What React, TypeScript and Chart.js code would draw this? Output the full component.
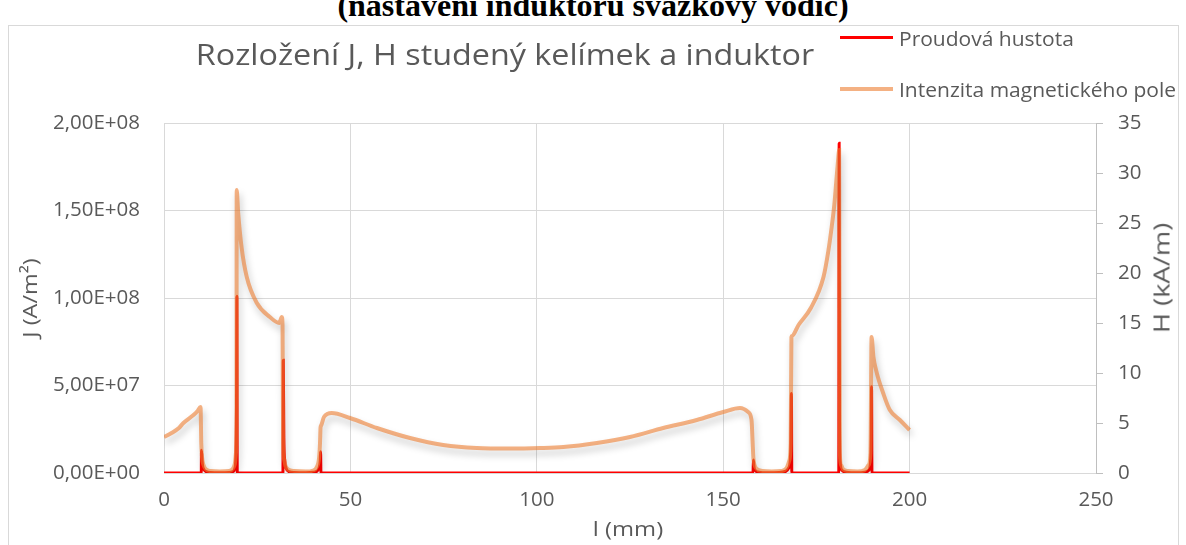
import React, { useEffect, useRef } from "react";
import { Chart, registerables } from "chart.js";

Chart.register(...registerables);

// ---- data ----
const headingText = "(nastavení induktoru svazkový vodič)";
const chartTitle = "Rozložení J, H studený kelímek a induktor";
const seriesJName = "Proudová hustota";
const seriesHName = "Intenzita magnetického pole";
const xAxisTitle = "l (mm)";
const jAxisTitle = "J (A/m²)";
const hAxisTitle = "H (kA/m)";

// current density J (A/m2) vs l (mm)
const jX = [
  0, 10.0, 10.05, 10.3, 10.7, 11.3, 12.5, 15, 17.5, 18.5, 19.0, 19.3, 19.45, 19.55, 19.65,
  31.9, 32.0, 32.15, 32.4, 32.8, 33.5, 35, 38, 40, 41, 41.6, 41.9, 42.0, 42.1,
  158.0, 158.1, 158.3, 158.7, 159.5, 162, 165, 166.8, 167.6, 168.1, 168.3, 168.4,
  181.0, 181.1, 181.2, 181.4, 181.9, 183, 186, 188, 189, 189.5, 189.7, 189.8, 189.9, 200,
];
const jY = [
  0, 0, 1.3e7, 5e6, 2e6, 8e5, 3e5, 2e5, 3e5, 8e5, 2.5e6, 1.2e7, 4e7, 1.01e8, 0,
  0, 6.45e7, 2e7, 7e6, 2.5e6, 8e5, 3e5, 2e5, 4e5, 1e6, 3e6, 7e6, 1.22e7, 0,
  0, 7.4e6, 3e6, 1.2e6, 5e5, 2e5, 3e5, 1e6, 3e6, 1.2e7, 4.55e7, 0,
  0, 1.884e8, 3e7, 6e6, 1.5e6, 5e5, 2e5, 5e5, 1.5e6, 6e6, 2e7, 4.93e7, 0, 0,
];

// magnetic field intensity H (kA/m) vs l (mm)
const hX = [
  0, 2, 4, 5.2, 7.9, 9.0, 9.8, 10.0, 10.2, 10.6, 11.3, 12.5, 15, 17.5, 18.5, 19.0, 19.3, 19.45,
  19.5, 19.9, 20.8, 22.2, 24.9, 28.4, 30.9, 31.6, 31.8, 31.95, 32.2, 32.6, 33.3, 35, 38, 40, 41,
  41.6, 41.85, 42.0, 42.15, 42.9, 45.0, 49.9, 57.1, 66.0, 74.9, 83.9, 92.8, 100.9, 107.1, 116.1, 125.0,
  133.9, 142.9, 150.0, 154.5, 156.7, 157.6, 157.9, 158.1, 158.4, 159, 160.5, 163, 165.5, 167,
  167.7, 168.1, 168.3, 168.45, 170.2, 173.5, 176.9, 178.2, 179.1, 179.8, 180.3, 180.8, 181.1, 181.3,
  181.6, 182.2, 183.5, 186, 188, 189, 189.5, 189.8, 190.3, 191.2, 192.9, 194.7, 197.4, 200,
];
const hY = [
  3.6, 4.0, 4.5, 5.0, 5.8, 6.2, 6.6, 3.0, 1.6, 0.8, 0.35, 0.2, 0.15, 0.2, 0.45, 0.9, 2.0, 6.0,
  28.3, 26.0, 22.6, 19.6, 17.0, 15.6, 15.0, 15.6, 14.8, 3.0, 1.4, 0.7, 0.35, 0.2, 0.15, 0.25, 0.6,
  1.5, 3.0, 4.6, 4.75, 5.6, 6.0, 5.5, 4.5, 3.5, 2.8, 2.5, 2.45, 2.5, 2.6, 3.0, 3.6,
  4.5, 5.3, 6.1, 6.5, 6.1, 5.3, 3.0, 1.5, 0.8, 0.4, 0.2, 0.15, 0.2, 0.5,
  1.2, 3.0, 13.6, 13.7, 14.8, 16.5, 19.6, 22.2, 24.6, 26.8, 29.0, 31.2, 32.3, 2.0,
  0.8, 0.35, 0.2, 0.15, 0.3, 0.8, 2.0, 13.6, 11.6, 10.0, 8.0, 6.3, 5.3, 4.3,
];

const xTicks = [0, 50, 100, 150, 200, 250];
const jTickLabels = ["0,00E+00", "5,00E+07", "1,00E+08", "1,50E+08", "2,00E+08"];
const hTickLabels = ["0", "5", "10", "15", "20", "25", "30", "35"];

const TEXT = "#595959";
const GRID = "#D9D9D9";
const RED = "#FF0000";
const ORANGE_T = "rgba(237,125,49,0.6)";
const ORANGE_SW = "#F4B183";
const FONT = "'Open Sans', sans-serif";

const shadowPlugin = {
  id: "hShadow",
  beforeDatasetDraw(chart: any, args: any) {
    if (args.index === 0) {
      const ctx = chart.ctx;
      ctx.save();
      ctx.shadowColor = "rgba(0,0,0,0.35)";
      ctx.shadowBlur = 7;
      ctx.shadowOffsetX = 2;
      ctx.shadowOffsetY = 5;
    }
  },
  afterDatasetDraw(chart: any, args: any) {
    if (args.index === 0) chart.ctx.restore();
  },
};

const textBase: React.CSSProperties = {
  position: "absolute",
  fontFamily: FONT,
  color: TEXT,
  whiteSpace: "nowrap",
};

export default function App() {
  const ref = useRef<HTMLCanvasElement>(null);

  useEffect(() => {
    if (!ref.current) return;
    const tickFont = { family: FONT, size: 20.5 };
    const chart = new Chart(ref.current, {
      type: "line",
      data: {
        datasets: [
          {
            label: seriesHName,
            data: hX.map((x, i) => ({ x, y: hY[i] })),
            yAxisID: "yH",
            borderColor: ORANGE_T,
            borderWidth: 4,
            pointRadius: 0,
            cubicInterpolationMode: "monotone",
            fill: false,
          },
          {
            label: seriesJName,
            data: jX.map((x, i) => ({ x, y: jY[i] })),
            yAxisID: "yJ",
            borderColor: RED,
            borderWidth: 3,
            pointRadius: 0,
            cubicInterpolationMode: "monotone",
            fill: false,
          },
        ],
      },
      options: {
        animation: false,
        responsive: false,
        devicePixelRatio: 1,
        layout: { padding: { left: 15, right: 0, top: 123, bottom: 0 } },
        plugins: { legend: { display: false }, title: { display: false }, tooltip: { enabled: false } },
        scales: {
          x: {
            type: "linear",
            min: 0,
            max: 250,
            afterBuildTicks: (s: any) => {
              s.ticks = xTicks.map((v) => ({ value: v }));
            },
            afterFit: (s: any) => {
              s.height = 72;
            },
            grid: { color: GRID, drawTicks: false, lineWidth: 1 },
            border: { display: true, color: GRID },
            ticks: { color: TEXT, font: tickFont, padding: 15, maxRotation: 0 },
          },
          yJ: {
            type: "linear",
            position: "left",
            min: 0,
            max: 2e8,
            ticks: {
              stepSize: 5e7,
              color: TEXT,
              font: tickFont,
              padding: 24,
              callback: (_v: any, i: number) => jTickLabels[i],
            },
            afterFit: (s: any) => {
              s.width = 149;
            },
            grid: { color: GRID, drawTicks: false, lineWidth: 1 },
            border: { display: false },
          },
          yH: {
            type: "linear",
            position: "right",
            min: 0,
            max: 35,
            ticks: {
              stepSize: 5,
              color: TEXT,
              font: tickFont,
              padding: 15,
              callback: (_v: any, i: number) => hTickLabels[i],
            },
            afterFit: (s: any) => {
              s.width = 90;
            },
            grid: { drawOnChartArea: false, drawTicks: true, tickLength: 7, color: "#BFBFBF" },
            border: { display: true, color: "#BFBFBF" },
          },
        },
      },
      plugins: [shadowPlugin],
    } as any);
    return () => chart.destroy();
  }, []);

  return (
    <div style={{ position: "fixed", left: 0, top: 0, width: 1186, height: 545, background: "#fff", overflow: "hidden" }}>
      <div
        style={{
          position: "absolute",
          left: 0,
          width: 1186,
          top: -11.5,
          textAlign: "center",
          fontFamily: "'Liberation Serif', serif",
          fontWeight: "bold",
          fontSize: 32,
          lineHeight: "32px",
          color: "#000",
          whiteSpace: "nowrap",
        }}
      >
        {headingText}
      </div>
      <div
        style={{
          position: "absolute",
          left: 8,
          top: 25,
          width: 1171,
          height: 600,
          border: "1px solid #D9D9D9",
          boxSizing: "border-box",
        }}
      />
      <canvas ref={ref} width={1186} height={545} style={{ position: "absolute", left: 0, top: 0 }} />
      <div
        style={{
          ...textBase,
          left: 505,
          top: 54,
          fontSize: 30,
          lineHeight: "30px",
          transform: "translate(-50%, -50%) scaleX(1.077)",
        }}
      >
        {chartTitle}
      </div>
      <div style={{ position: "absolute", left: 840, top: 36, width: 53, height: 3, background: RED }} />
      <div
        style={{
          ...textBase,
          left: 899,
          top: 29,
          fontSize: 20,
          lineHeight: "20px",
          transformOrigin: "left center",
          transform: "scaleX(1.05)",
        }}
      >
        {seriesJName}
      </div>
      <div style={{ position: "absolute", left: 840, top: 87, width: 53, height: 4, background: ORANGE_SW }} />
      <div
        style={{
          ...textBase,
          left: 899,
          top: 80,
          fontSize: 20,
          lineHeight: "20px",
          transformOrigin: "left center",
          transform: "scaleX(1.05)",
        }}
      >
        {seriesHName}
      </div>
      <div
        style={{
          ...textBase,
          left: 30,
          top: 298,
          fontSize: 20,
          lineHeight: "20px",
          transform: "translate(-50%, -50%) rotate(-90deg) scaleX(1.17)",
        }}
      >
        {jAxisTitle}
      </div>
      <div
        style={{
          ...textBase,
          left: 628,
          top: 529,
          fontSize: 20,
          lineHeight: "20px",
          transform: "translate(-50%, -50%) scaleX(1.19)",
        }}
      >
        {xAxisTitle}
      </div>
      <div
        style={{
          ...textBase,
          left: 1162,
          top: 278,
          fontSize: 21,
          lineHeight: "21px",
          transform: "translate(-50%, -50%) rotate(-90deg) scaleX(1.3)",
        }}
      >
        {hAxisTitle}
      </div>
    </div>
  );
}
